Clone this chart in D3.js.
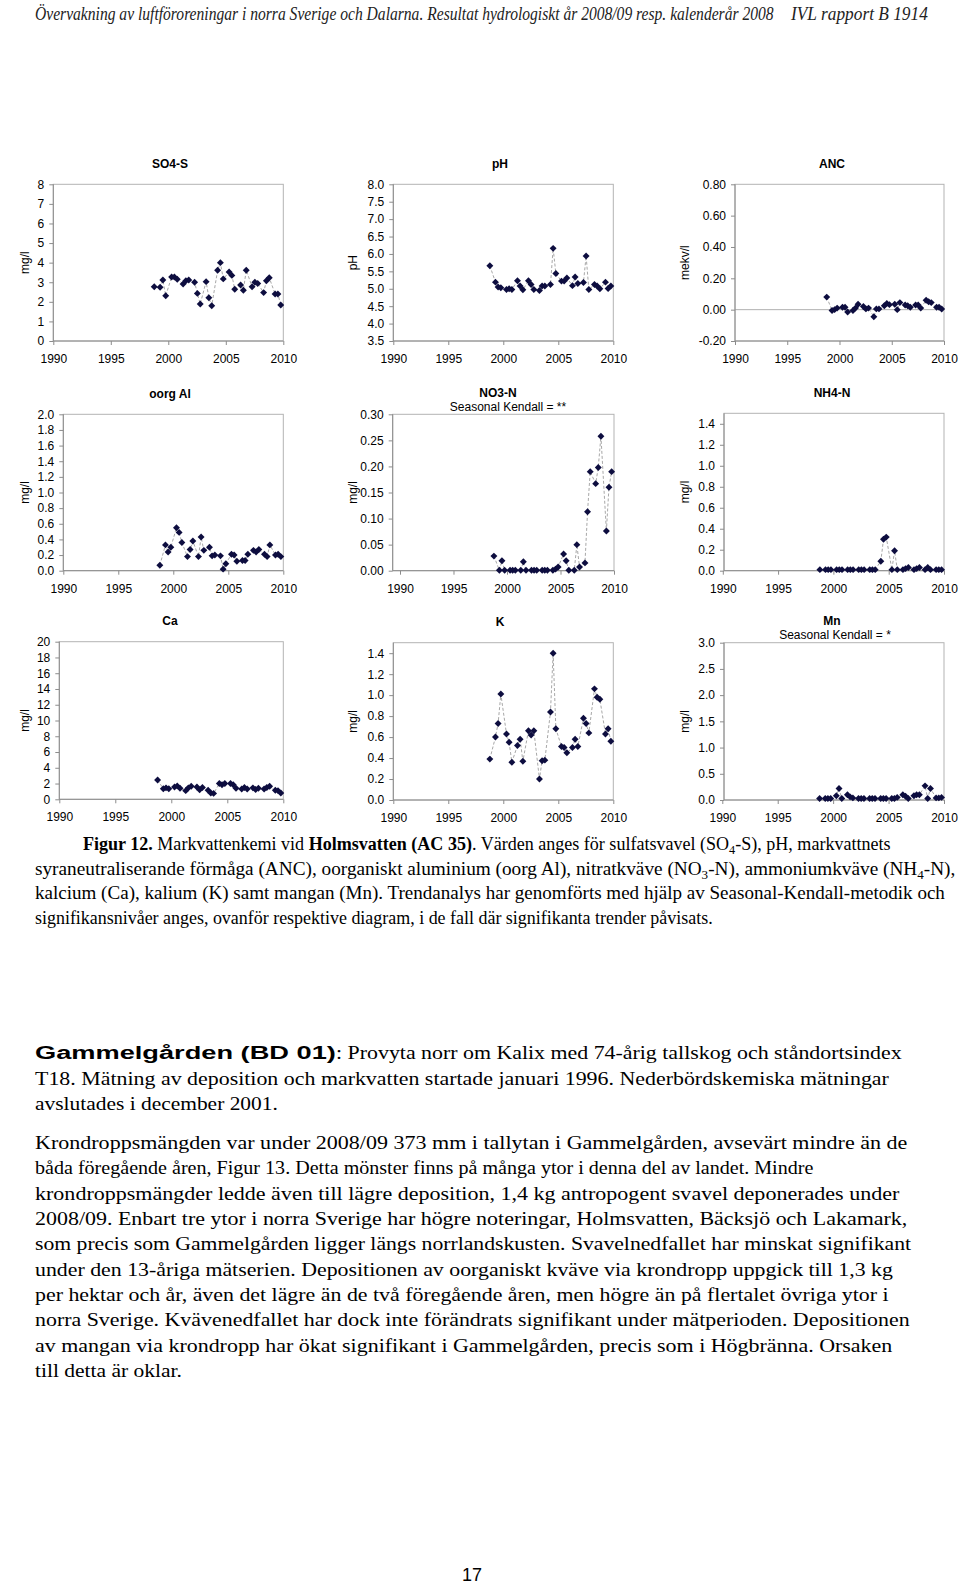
<!DOCTYPE html>
<html><head><meta charset="utf-8">
<script src="https://cdn.jsdelivr.net/npm/d3@7"></script>
<style>body{margin:0;background:#fff}svg{display:block}</style>
</head><body>
<svg id="page" width="960" height="1585"></svg>
<script>
// ---------- DATA ----------
const sampleDates = [
  "1998-10-12",
  "1999-04-16","1999-07-13","1999-10-12",
  "2000-04-16","2000-07-13","2000-10-12",
  "2001-04-16","2001-07-13","2001-10-12",
  "2002-04-16","2002-07-13","2002-10-12",
  "2003-04-16","2003-07-13","2003-10-12",
  "2004-04-16","2004-07-13","2004-10-12",
  "2005-04-16","2005-07-13","2005-10-12",
  "2006-04-16","2006-07-13","2006-10-12",
  "2007-04-16","2007-07-13","2007-10-12",
  "2008-04-16","2008-07-13","2008-10-12",
  "2009-04-16","2009-07-13","2009-10-12"
];
const so4s  = [2.77, 2.74,3.11,2.31, 3.27,3.27,3.15, 2.91,3.08,3.11, 3.00,2.43,1.89, 3.03,2.21,1.80, 3.61,4.00,3.17, 3.52,3.35,2.64, 2.86,2.59,3.61, 2.77,3.00,2.94, 2.47,3.08,3.23, 2.40,2.40,1.84];
const ph    = [5.66, 5.19,5.05,5.03, 4.98,5.00,4.98, 5.23,5.08,4.97, 5.23,5.12,4.98, 4.95,5.08,5.08, 5.12,6.16,5.44, 5.22,5.22,5.31, 5.09,5.34,5.15, 5.18,5.94,4.98, 5.12,5.08,5.00, 5.19,5.01,5.08];
const anc   = [0.080, -0.005,0.000,0.010, 0.015,0.015,-0.015, -0.005,0.010,0.035, 0.020,0.005,0.010, -0.045,0.005,0.005, 0.025,0.040,0.032, 0.035,0.000,0.045, 0.030,0.025,0.015, 0.030,0.030,0.010, 0.060,0.050,0.045, 0.015,0.015,0.004];
const oorgAl= [0.07, 0.33,0.24,0.30, 0.55,0.49,0.36, 0.18,0.27,0.38, 0.18,0.43,0.26, 0.30,0.19,0.20, 0.19,0.02,0.09, 0.21,0.20,0.12, 0.13,0.13,0.21, 0.26,0.24,0.27, 0.21,0.18,0.33, 0.20,0.21,0.18];
const no3n  = [0.028, 0.001,0.019,0.001, 0.001,0.001,0.001, 0.001,0.017,0.001, 0.001,0.001,0.001, 0.001,0.001,0.001, 0.001,0.003,0.007, 0.032,0.019,0.001, 0.001,0.050,0.007, 0.015,0.113,0.190, 0.167,0.198,0.258, 0.076,0.160,0.190];
const nh4n  = [0.01, 0.01,0.01,0.01, 0.01,0.01,0.01, 0.01,0.01,0.01, 0.01,0.01,0.01, 0.01,0.01,0.01, 0.09,0.30,0.32, 0.01,0.19,0.01, 0.01,0.02,0.03, 0.01,0.02,0.03, 0.01,0.03,0.01, 0.01,0.01,0.01];
const ca    = [2.45, 1.35,1.45,1.35, 1.55,1.70,1.40, 1.10,1.45,1.65, 1.55,1.20,1.50, 1.15,0.80,0.75, 2.00,1.85,2.00, 2.00,1.85,1.40, 1.30,1.50,1.30, 1.45,1.25,1.40, 1.30,1.50,1.65, 1.15,1.10,0.80];
const kal   = [0.39, 0.60,0.73,1.01, 0.63,0.55,0.36, 0.52,0.58,0.37, 0.66,0.62,0.66, 0.20,0.375,0.38, 0.84,1.40,0.68, 0.51,0.50,0.45, 0.50,0.58,0.51, 0.78,0.73,0.64, 1.06,0.98,0.96, 0.63,0.68,0.56];
const mn    = [0.03, 0.03,0.03,0.03, 0.08,0.22,0.03, 0.10,0.06,0.04, 0.03,0.03,0.03, 0.03,0.03,0.03, 0.03,0.03,0.03, 0.03,0.03,0.05, 0.10,0.07,0.03, 0.08,0.10,0.10, 0.27,0.03,0.22, 0.04,0.04,0.05];

const xTickYears = ["1990","1995","2000","2005","2010"];
const so4Ticks = ["0","1","2","3","4","5","6","7","8"];
const phTicks  = ["3.5","4.0","4.5","5.0","5.5","6.0","6.5","7.0","7.5","8.0"];
const ancTicks = ["-0.20","0.00","0.20","0.40","0.60","0.80"];
const alTicks  = ["0.0","0.2","0.4","0.6","0.8","1.0","1.2","1.4","1.6","1.8","2.0"];
const no3Ticks = ["0.00","0.05","0.10","0.15","0.20","0.25","0.30"];
const nh4Ticks = ["0.0","0.2","0.4","0.6","0.8","1.0","1.2","1.4"];
const caTicks  = ["0","2","4","6","8","10","12","14","16","18","20"];
const kTicks   = ["0.0","0.2","0.4","0.6","0.8","1.0","1.2","1.4"];
const mnTicks  = ["0.0","0.5","1.0","1.5","2.0","2.5","3.0"];

const chartTitles = ["SO4-S","pH","ANC","oorg Al","NO3-N","NH4-N","Ca","K","Mn"];
const chartSubtitles = ["","","","","Seasonal Kendall = **","","","","Seasonal Kendall = *"];
const yTitles = ["mg/l","pH","mekv/l","mg/l","mg/l","mg/l","mg/l","mg/l","mg/l"];

const headerMain = "Övervakning av luftföroreningar i norra Sverige och Dalarna. Resultat hydrologiskt år 2008/09 resp. kalenderår 2008";
const headerRight = "IVL rapport B 1914";
const paraGammel = [
  "T18. Mätning av deposition och markvatten startade januari 1996. Nederbördskemiska mätningar",
  "avslutades i december 2001."
];
const paraKron = [
  "Krondroppsmängden var under 2008/09 373 mm i tallytan i Gammelgården, avsevärt mindre än de",
  "båda föregående åren, Figur 13. Detta mönster finns på många ytor i denna del av landet. Mindre",
  "krondroppsmängder ledde även till lägre deposition, 1,4 kg antropogent svavel deponerades under",
  "2008/09. Enbart tre ytor i norra Sverige har högre noteringar, Holmsvatten, Bäcksjö och Lakamark,",
  "som precis som Gammelgården ligger längs norrlandskusten. Svavelnedfallet har minskat signifikant",
  "under den 13-åriga mätserien. Depositionen av oorganiskt kväve via krondropp uppgick till 1,3 kg",
  "per hektar och år, även det lägre än de två föregående åren, men högre än på flertalet övriga ytor i",
  "norra Sverige. Kvävenedfallet har dock inte förändrats signifikant under mätperioden. Depositionen",
  "av mangan via krondropp har ökat signifikant i Gammelgården, precis som i Högbränna. Orsaken",
  "till detta är oklar."
];

// ---------- LAYOUT ----------
const svg = d3.select("#page");
svg.append("rect").attr("width",960).attr("height",1585).attr("fill","#fff");
const parseD = d3.timeParse("%Y-%m-%d");
const dates = sampleDates.map(parseD);

const charts = [
  {vals:so4s, ticks:so4Ticks, dom:[0,8],   left:53.3, right:283.3, top:184.3, bottom:341,   x0:53.3,  x1:283.3, tx:170,  ty:168,  ylx:25},
  {vals:ph,   ticks:phTicks,  dom:[3.5,8], left:393.3,right:613.3, top:184.3, bottom:341,   x0:393.3, x1:613.3, tx:500,  ty:168,  ylx:353},
  {vals:anc,  ticks:ancTicks, dom:[-0.2,0.8], left:735, right:944, top:184.3, bottom:341,   x0:735,   x1:944,   tx:832,  ty:168,  ylx:685, zero:true},
  {vals:oorgAl,ticks:alTicks, dom:[0,2],   left:63.3, right:283.3, top:414.3, bottom:570.7, x0:63.3,  x1:283.3, tx:170,  ty:397.5,ylx:25},
  {vals:no3n, ticks:no3Ticks, dom:[0,0.3], left:392.7,right:614,   top:414.3, bottom:570.7, x0:400,   x1:614,   tx:498,  ty:396.5,ylx:353, stx:508, sty:410.5},
  {vals:nh4n, ticks:nh4Ticks, dom:[0,1.5], left:724,  right:944,   top:413.3, bottom:570.7, x0:722.8, x1:944,   tx:832,  ty:396.5,ylx:685},
  {vals:ca,   ticks:caTicks,  dom:[0,20],  left:59.3, right:283.3, top:641.7, bottom:799.3, x0:59.3,  x1:283.3, tx:170,  ty:625,  ylx:25},
  {vals:kal,  ticks:kTicks,   dom:[0,1.5], left:393.3,right:613.3, top:642.7, bottom:800,   x0:393.3, x1:613.3, tx:500,  ty:626,  ylx:353},
  {vals:mn,   ticks:mnTicks,  dom:[0,3],   left:724,  right:944,   top:642.7, bottom:800,   x0:722.3, x1:944,   tx:832,  ty:624.5,ylx:685, stx:835, sty:638.5}
];

const FONT = "'Liberation Sans', Arial, Helvetica, sans-serif";
const axisCol = "#8c8c8c";

charts.forEach((c,i)=>{
  const g = svg.append("g");
  const x = d3.scaleTime().domain([new Date(1990,0,1), new Date(2010,0,1)]).range([c.x0, c.x1]);
  const y = d3.scaleLinear().domain(c.dom).range([c.bottom, c.top]);
  g.append("rect").attr("x",c.left).attr("y",c.top).attr("width",c.right-c.left).attr("height",c.bottom-c.top)
    .attr("fill","none").attr("stroke","#b3b3b3").attr("stroke-width",1);
  if (c.zero) {
    g.append("line").attr("x1",c.left).attr("x2",c.right).attr("y1",y(0)).attr("y2",y(0))
      .attr("stroke","#b0b0b0").attr("stroke-width",1);
  }
  const yAxis = d3.axisLeft(y).tickValues(c.ticks.map(Number)).tickFormat((d,j)=>c.ticks[j]).tickSize(4).tickPadding(5);
  const ga = g.append("g").attr("transform",`translate(${c.left},0)`).call(yAxis);
  ga.select(".domain").remove();
  g.append("line").attr("x1",c.left).attr("x2",c.left).attr("y1",c.top).attr("y2",c.bottom).attr("stroke",axisCol);
  const xAxis = d3.axisBottom(x).tickValues(xTickYears.map(s=>new Date(+s,0,1))).tickFormat((d,j)=>xTickYears[j]).tickSize(4).tickPadding(9.5);
  const gx = g.append("g").attr("transform",`translate(0,${c.bottom})`).call(xAxis);
  gx.select(".domain").remove();
  g.append("line").attr("x1",c.left).attr("x2",c.right).attr("y1",c.bottom).attr("y2",c.bottom).attr("stroke",axisCol);
  g.selectAll(".tick line").attr("stroke",axisCol);
  g.selectAll(".tick text").attr("fill","#000").style("font-family",FONT).style("font-size","12px");
  const pts = dates.map((d,j)=>[d, c.vals[j]]);
  g.append("path").datum(pts)
    .attr("d", d3.line().x(p=>x(p[0])).y(p=>y(p[1])))
    .attr("fill","none").attr("stroke","#a8a8a8").attr("stroke-width",1).attr("stroke-dasharray","3,2");
  const sym = d3.symbol(d3.symbolSquare, 24);
  g.selectAll("path.mk").data(pts).join("path").attr("class","mk")
    .attr("d", sym)
    .attr("transform", p=>`translate(${x(p[0])},${y(p[1])}) rotate(45)`)
    .attr("fill","#0d0d3f");
  g.append("text").attr("x",c.tx).attr("y",c.ty).attr("text-anchor","middle")
    .style("font-family",FONT).style("font-size","12px").style("font-weight","bold").text(chartTitles[i]);
  if (chartSubtitles[i]) {
    g.append("text").attr("x",c.stx).attr("y",c.sty).attr("text-anchor","middle")
      .style("font-family",FONT).style("font-size","12px").text(chartSubtitles[i]);
  }
  const my = (c.top+c.bottom)/2;
  g.append("text").attr("transform",`translate(${c.ylx},${my}) rotate(-90)`).attr("text-anchor","middle")
    .attr("dy","0.35em").style("font-family",FONT).style("font-size","12px").text(yTitles[i]);
});

// ---------- TEXT (horizontally scaled to match the reference line widths) ----------
const SERIF = "'Liberation Serif', 'Times New Roman', serif";
function line(xp, yp, w, size, parts, opts){
  opts = opts || {};
  const t = svg.append("text").attr("x",0).attr("y",0)
    .style("font-family",opts.family || SERIF).style("font-size",size+"px");
  if (opts.italic) t.style("font-style","italic");
  if (opts.bold) t.style("font-weight","bold");
  if (opts.fill) t.style("fill",opts.fill);
  if (typeof parts === "string") t.text(parts);
  else parts.forEach(p=>{
    const s = t.append("tspan").text(p.t);
    if (p.b) s.style("font-weight","bold");
    if (p.sub) s.attr("dy", 4).style("font-size",(size*0.68)+"px");
    if (p.after) s.attr("dy", -4);
  });
  const L = t.node().getComputedTextLength();
  t.attr("transform",`translate(${xp},${yp}) scale(${w/L},1)`);
  return t;
}
line(35, 20, 739, 18, headerMain, {italic:true, fill:"#222"});
line(791, 20, 137, 18, headerRight, {italic:true, fill:"#222"});

const capSize = 18.5;
line(83, 850, 808, capSize, [
  {t:"Figur 12.", b:true},{t:" Markvattenkemi vid "},{t:"Holmsvatten (AC 35)", b:true},
  {t:". Värden anges för sulfatsvavel (SO"},{t:"4", sub:true},{t:"-S), pH, markvattnets", after:true}]);
line(35, 874.5, 921, capSize, [
  {t:"syraneutraliserande förmåga (ANC), oorganiskt aluminium (oorg Al), nitratkväve (NO"},{t:"3",sub:true},
  {t:"-N), ammoniumkväve (NH", after:true},{t:"4",sub:true},{t:"-N),", after:true}]);
line(35, 899, 911, capSize, "kalcium (Ca), kalium (K) samt mangan (Mn). Trendanalys har genomförts med hjälp av Seasonal-Kendall-metodik och");
line(35, 923.5, 678, capSize, "signifikansnivåer anges, ovanför respektive diagram, i de fall där signifikanta trender påvisats.");

line(35, 1059, 301, 18, "Gammelgården (BD 01)", {family:FONT, bold:true});
line(336, 1059, 566, 19, ": Provyta norr om Kalix med 74-årig tallskog och ståndortsindex");
const gWidths = [854, 243];
paraGammel.forEach((s,i)=> line(35, 1084.5 + i*25.5, gWidths[i], 19, s));

const kWidths = [873, 779, 865, 873, 877, 858, 854, 875, 858, 147];
paraKron.forEach((s,i)=> line(35, 1149 + i*25.35, kWidths[i], 19, s));

svg.append("text").attr("x",472).attr("y",1581).attr("text-anchor","middle")
  .style("font-family",FONT).style("font-size","18px").text("17");
</script>
</body></html>
